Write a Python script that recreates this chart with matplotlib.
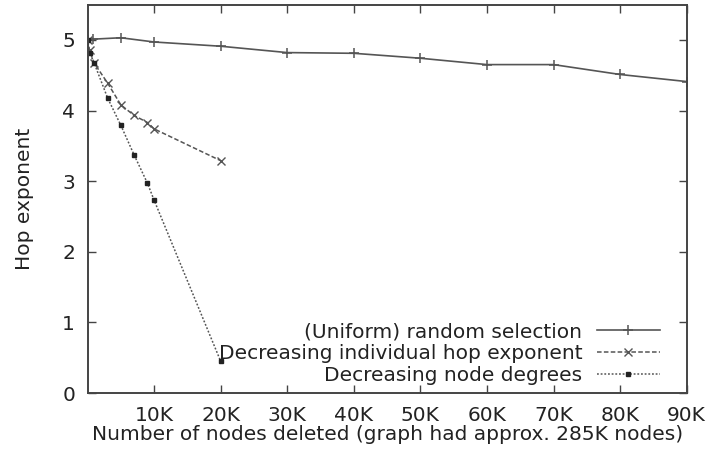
import numpy as np
import matplotlib
matplotlib.use("Agg")
import matplotlib.pyplot as plt
from matplotlib.ticker import FuncFormatter

plt.rcParams['font.family'] = ['DejaVu Sans']

# nodes deleted vs hop exponent
uniform_x = [0, 800, 5000, 10000, 20000, 30000, 40000, 50000, 60000, 70000, 80000, 90000]
uniform_y = [5.0, 5.01, 5.03, 4.97, 4.91, 4.82, 4.81, 4.74, 4.65, 4.65, 4.51, 4.41]

hop_x = [0, 300, 1000, 3000, 5000, 7000, 9000, 10000, 20000]
hop_y = [5.0, 4.85, 4.67, 4.39, 4.08, 3.93, 3.83, 3.74, 3.29]

deg_x = [0, 300, 1000, 3000, 5000, 7000, 9000, 10000, 20000]
deg_y = [5.0, 4.82, 4.67, 4.18, 3.79, 3.37, 2.97, 2.73, 0.45]

labels = ["(Uniform) random selection",
          "Decreasing individual hop exponent",
          "Decreasing node degrees"]

xticks = [10000, 20000, 30000, 40000, 50000, 60000, 70000, 80000, 90000]
yticks = [0, 1, 2, 3, 4, 5]

col = '#555555'
fs = 14.5

fig = plt.figure(figsize=(7.09, 4.55), dpi=100)
ax = fig.add_axes([0.1235, 0.136, 0.845, 0.854])

ax.plot(uniform_x, uniform_y, color=col, lw=1.2, marker='+', ms=7, mew=1.1,
        label=labels[0])
ax.plot(hop_x, hop_y, color=col, lw=1.1, ls=(0, (3, 1.5)), marker='x', ms=6, mew=1.0,
        label=labels[1])
ax.plot(deg_x, deg_y, color=col, lw=1.1, ls=(0, (1.2, 1.2)), marker='s', ms=3.5,
        mfc='#222222', mec='#222222', label=labels[2])

ax.set_xlim(0, 90000)
ax.set_ylim(0, 5.5)
ax.set_xticks(xticks)
ax.set_yticks(yticks)
ax.xaxis.set_major_formatter(FuncFormatter(lambda v, p: "%dK" % (v / 1000)))
ax.tick_params(direction='in', top=True, right=True, length=6, width=1.0,
               color='#444444', labelsize=fs, pad=9, labelcolor='#222222')
for s in ax.spines.values():
    s.set_linewidth(1.4)
    s.set_color('#444444')

ax.set_xlabel("Number of nodes deleted (graph had approx. 285K nodes)",
              fontsize=fs, color='#222222', labelpad=0)
ax.set_ylabel("Hop exponent", fontsize=fs, color='#222222', labelpad=20)

ax.legend(loc='lower right', frameon=False, markerfirst=False, fontsize=fs,
          handlelength=3.1, handletextpad=0.75, labelspacing=0.15,
          borderpad=0, borderaxespad=0, bbox_to_anchor=(0.955, 0.02),
          labelcolor='#222222')

fig.savefig("out.png", dpi=100)
